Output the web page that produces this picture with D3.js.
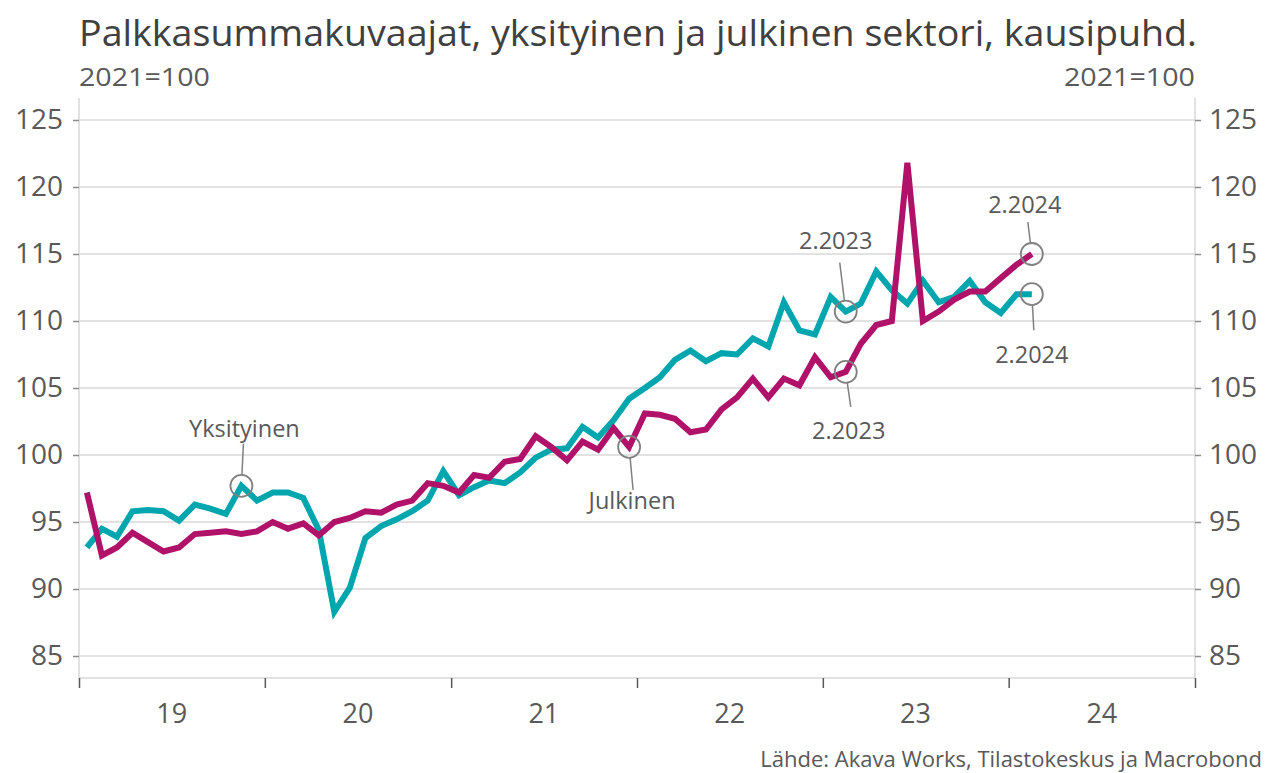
<!DOCTYPE html>
<html>
<head>
<meta charset="utf-8">
<script src="https://cdn.jsdelivr.net/npm/d3@7"></script>
<style>
  body { margin: 0; background: #fff; }
  text { font-family: "Open Sans", sans-serif; }
</style>
</head>
<body>
<div id="chart"></div>
<script>
const width = 1266;
const height = 773;

// kuukausisarjat, 1.2019 - 2.2024
const startYear = 2019;
const julkinen = [
    97.2, 92.5, 93.1, 94.2, 93.5, 92.8, 93.1, 94.1, 94.2, 94.3, 94.1, 94.3,
    95.0, 94.5, 94.9, 94.0, 95.0, 95.3, 95.8, 95.7, 96.3, 96.6, 97.9, 97.7,
    97.2, 98.5, 98.3, 99.5, 99.7, 101.4, 100.6, 99.6, 101.0, 100.4, 102.0, 100.6,
    103.1, 103.0, 102.7, 101.7, 101.9, 103.4, 104.3, 105.7, 104.3, 105.7, 105.2, 107.3,
    105.8, 106.2, 108.3, 109.7, 110.0, 121.8, 110.0, 110.7, 111.6, 112.2, 112.2, 113.2,
    114.2, 115.0
];
const yksityinen = [
    93.1, 94.5, 93.9, 95.8, 95.9, 95.8, 95.1, 96.3, 96.0, 95.6, 97.7, 96.6,
    97.2, 97.2, 96.8, 94.4, 88.3, 90.1, 93.8, 94.7, 95.2, 95.8, 96.6, 98.8,
    97.0, 97.6, 98.1, 97.9, 98.7, 99.8, 100.4, 100.5, 102.1, 101.3, 102.6, 104.2,
    105.0, 105.8, 107.1, 107.8, 107.0, 107.6, 107.5, 108.7, 108.1, 111.4, 109.3, 109.0,
    111.8, 110.7, 111.3, 113.7, 112.3, 111.3, 113.0, 111.4, 111.8, 113.0, 111.4, 110.6,
    112.0, 112.0
];
const yearLabels = ["19", "20", "21", "22", "23", "24"];
const yTicks = [85, 90, 95, 100, 105, 110, 115, 120, 125];

const title = "Palkkasummakuvaajat, yksityinen ja julkinen sektori, kausipuhd.";
const unit = "2021=100";
const source = "Lähde: Akava Works, Tilastokeskus ja Macrobond";

// merkinnät: sarja, kuukausi-indeksi, tekstin siirto ja viivan alku pisteestä
const notes = [
    { series: "y", i: 10, text: "Yksityinen", tx: 3, ty: -49, lx: 2, ly: -42 },
    { series: "j", i: 35, text: "Julkinen", tx: 3, ty: 62, lx: 4, ly: 43 },
    { series: "y", i: 49, text: "2.2023", tx: -10, ty: -63, lx: -6, ly: -49 },
    { series: "j", i: 49, text: "2.2023", tx: 3, ty: 67, lx: 5, ly: 35 },
    { series: "j", i: 61, text: "2.2024", tx: -7, ty: -41, lx: -4, ly: -32 },
    { series: "y", i: 61, text: "2.2024", tx: 0, ty: 69, lx: 2, ly: 36 }
];

const magenta = "#b0126a";
const teal = "#00a6ad";
const gridColor = "#d9d9d9";
const textColor = "#595959";

const plotLeft = 79, plotRight = 1195, plotTop = 98, plotBottom = 678;

const svg = d3.select("#chart").append("svg")
    .attr("width", width)
    .attr("height", height);

const x = d3.scaleTime()
    .domain([new Date(startYear, 0, 1), new Date(startYear + yearLabels.length, 0, 1)])
    .range([plotLeft, plotRight]);

const y = d3.scaleLinear()
    .domain([85, 125])
    .range([656, 120]);

function midMonth(i) {
    const a = new Date(startYear, i, 1), b = new Date(startYear, i + 1, 1);
    return new Date((a.getTime() + b.getTime()) / 2);
}

// gridlines
svg.append("g")
    .selectAll("line")
    .data(yTicks)
    .enter().append("line")
    .attr("x1", plotLeft)
    .attr("x2", plotRight)
    .attr("y1", d => y(d))
    .attr("y2", d => y(d))
    .style("stroke", gridColor)
    .style("stroke-width", 1.5);

// frame
svg.append("path")
    .attr("d", `M${plotLeft},${plotTop}V${plotBottom}H${plotRight}V${plotTop}`)
    .style("fill", "none")
    .style("stroke", gridColor)
    .style("stroke-width", 1.5);

// y axes
const yLeft = svg.append("g")
    .attr("transform", `translate(${plotLeft},0)`)
    .call(d3.axisLeft(y).tickValues(yTicks).tickSizeInner(6).tickSizeOuter(0).tickPadding(10));
const yRight = svg.append("g")
    .attr("transform", `translate(${plotRight},0)`)
    .call(d3.axisRight(y).tickValues(yTicks).tickSizeInner(6).tickSizeOuter(0).tickPadding(8));

[yLeft, yRight].forEach(g => {
    g.select(".domain").remove();
    g.selectAll(".tick line").style("stroke", "#8c8c8c").style("stroke-width", 1.5);
    g.selectAll(".tick text")
        .style("font-size", "28px")
        .style("fill", textColor);
});

// x axis
const years = d3.range(yearLabels.length + 1).map(k => new Date(startYear + k, 0, 1));
const xAxis = svg.append("g")
    .attr("transform", `translate(0,${plotBottom})`)
    .call(d3.axisBottom(x).tickValues(years).tickSizeInner(10).tickSizeOuter(0).tickFormat(""));
xAxis.select(".domain").remove();
xAxis.selectAll(".tick line").style("stroke", "#595959").style("stroke-width", 1.5);

svg.append("g")
    .selectAll("text")
    .data(yearLabels)
    .enter().append("text")
    .attr("x", (d, k) => x(new Date(startYear + k, 6, 2)))
    .attr("y", 723)
    .attr("text-anchor", "middle")
    .style("font-size", "27px")
    .style("fill", textColor)
    .text(d => d);

// lines
const line = d3.line()
    .x((d, i) => x(midMonth(i)))
    .y(d => y(d));

svg.append("path")
    .datum(yksityinen)
    .attr("d", line)
    .style("fill", "none")
    .style("stroke", teal)
    .style("stroke-width", 6);

svg.append("path")
    .datum(julkinen)
    .attr("d", line)
    .style("fill", "none")
    .style("stroke", magenta)
    .style("stroke-width", 6);

// annotations
const r = 11;
const noteG = svg.append("g");
notes.forEach(n => {
    const v = n.series === "y" ? yksityinen[n.i] : julkinen[n.i];
    const px = x(midMonth(n.i)), py = y(v);
    const len = Math.hypot(n.lx, n.ly);
    noteG.append("circle")
        .attr("cx", px)
        .attr("cy", py)
        .attr("r", r)
        .style("fill", "none")
        .style("stroke", "#808080")
        .style("stroke-width", 1.8);
    noteG.append("line")
        .attr("x1", px + n.lx)
        .attr("y1", py + n.ly)
        .attr("x2", px + n.lx / len * r)
        .attr("y2", py + n.ly / len * r)
        .style("stroke", "#808080")
        .style("stroke-width", 1.5);
    noteG.append("text")
        .attr("x", px + n.tx)
        .attr("y", py + n.ty)
        .attr("text-anchor", "middle")
        .style("font-size", "23.5px")
        .style("fill", textColor)
        .text(n.text);
});

// titles
svg.append("text")
    .attr("x", plotLeft)
    .attr("y", 46)
    .attr("textLength", 1118)
    .attr("lengthAdjust", "spacingAndGlyphs")
    .style("font-size", "36px")
    .style("fill", "#404040")
    .text(title);

svg.append("text")
    .attr("x", plotLeft)
    .attr("y", 86)
    .attr("textLength", 131)
    .attr("lengthAdjust", "spacingAndGlyphs")
    .style("font-size", "26px")
    .style("fill", textColor)
    .text(unit);

svg.append("text")
    .attr("x", plotRight - 131)
    .attr("y", 86)
    .attr("textLength", 131)
    .attr("lengthAdjust", "spacingAndGlyphs")
    .style("font-size", "26px")
    .style("fill", textColor)
    .text(unit);

svg.append("text")
    .attr("x", 1262)
    .attr("y", 767)
    .attr("text-anchor", "end")
    .style("font-size", "22px")
    .style("fill", textColor)
    .text(source);
</script>
</body>
</html>
